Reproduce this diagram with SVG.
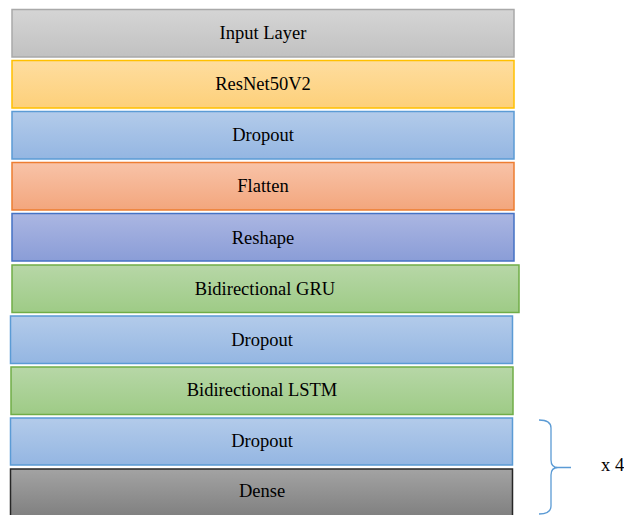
<svg xmlns="http://www.w3.org/2000/svg" width="624" height="515" viewBox="0 0 624 515">
<defs>
<linearGradient id="gGray" x1="0" y1="0" x2="0" y2="1"><stop offset="0" stop-color="#d5d5d5"/><stop offset="1" stop-color="#c1c1c1"/></linearGradient>
<linearGradient id="gGold" x1="0" y1="0" x2="0" y2="1"><stop offset="0" stop-color="#fedd9f"/><stop offset="1" stop-color="#fdd07a"/></linearGradient>
<linearGradient id="gBlue" x1="0" y1="0" x2="0" y2="1"><stop offset="0" stop-color="#b3cbea"/><stop offset="1" stop-color="#94b6e2"/></linearGradient>
<linearGradient id="gOrange" x1="0" y1="0" x2="0" y2="1"><stop offset="0" stop-color="#f8c3a8"/><stop offset="1" stop-color="#f3a67d"/></linearGradient>
<linearGradient id="gIndigo" x1="0" y1="0" x2="0" y2="1"><stop offset="0" stop-color="#abb6e2"/><stop offset="1" stop-color="#8a9dd7"/></linearGradient>
<linearGradient id="gGreen" x1="0" y1="0" x2="0" y2="1"><stop offset="0" stop-color="#b7d7a7"/><stop offset="1" stop-color="#9ecb86"/></linearGradient>
<linearGradient id="gDark" x1="0" y1="0" x2="0" y2="1"><stop offset="0" stop-color="#a3a3a3"/><stop offset="1" stop-color="#7e7e7e"/></linearGradient>
</defs>
<style>
.t{font-family:'Liberation Serif','Times New Roman','DejaVu Serif',serif;font-size:18.5px;fill:#000;text-anchor:middle}
rect{stroke-width:1.5}
.gray{fill:url(#gGray);stroke:#a9a9a9}
.gold{fill:url(#gGold);stroke:#ffc000}
.blue{fill:url(#gBlue);stroke:#5b9bd5}
.orange{fill:url(#gOrange);stroke:#ed7d31}
.indigo{fill:url(#gIndigo);stroke:#4472c4}
.green{fill:url(#gGreen);stroke:#70ad47}
.dark{fill:url(#gDark);stroke:#262626}
.brace{fill:none;stroke:#5b9bd5;stroke-width:1.3}
</style>
<g id="input-layer"><rect class="gray" x="12" y="9.5" width="502" height="47.5"/><text class="t" x="263" y="39">Input Layer</text></g>
<g id="resnet50v2"><rect class="gold" x="12" y="60.5" width="502" height="47.5"/><text class="t" x="263" y="90">ResNet50V2</text></g>
<g id="dropout-1"><rect class="blue" x="12" y="111.5" width="502" height="47.5"/><text class="t" x="263" y="141">Dropout</text></g>
<g id="flatten"><rect class="orange" x="12" y="162.5" width="502" height="47.5"/><text class="t" x="263" y="192">Flatten</text></g>
<g id="reshape"><rect class="indigo" x="12" y="213.5" width="502" height="47.5"/><text class="t" x="263" y="244">Reshape</text></g>
<g id="bigru"><rect class="green" x="12" y="265" width="507" height="47.5"/><text class="t" x="265" y="295">Bidirectional GRU</text></g>
<g id="dropout-2"><rect class="blue" x="10.5" y="316" width="502" height="47.5"/><text class="t" x="262" y="346">Dropout</text></g>
<g id="bilstm"><rect class="green" x="11" y="367" width="502" height="47.5"/><text class="t" x="262" y="396">Bidirectional LSTM</text></g>
<g id="dropout-3"><rect class="blue" x="10.5" y="418" width="502" height="47"/><text class="t" x="262" y="447">Dropout</text></g>
<g id="dense"><rect class="dark" x="10.5" y="469" width="502" height="50"/><text class="t" x="262" y="497">Dense</text></g>
<g id="connectors"><path class="brace" d="M539 420 Q551 420 551 428 L551 460 Q551 467.5 558 467.5 L571 467.5 M558 467.5 Q551 467.5 551 475 L551 506 Q551 514 539 514"/></g>
<g id="repeat-label"><text class="t" x="601" y="471" style="text-anchor:start">x 4</text></g>
</svg>
